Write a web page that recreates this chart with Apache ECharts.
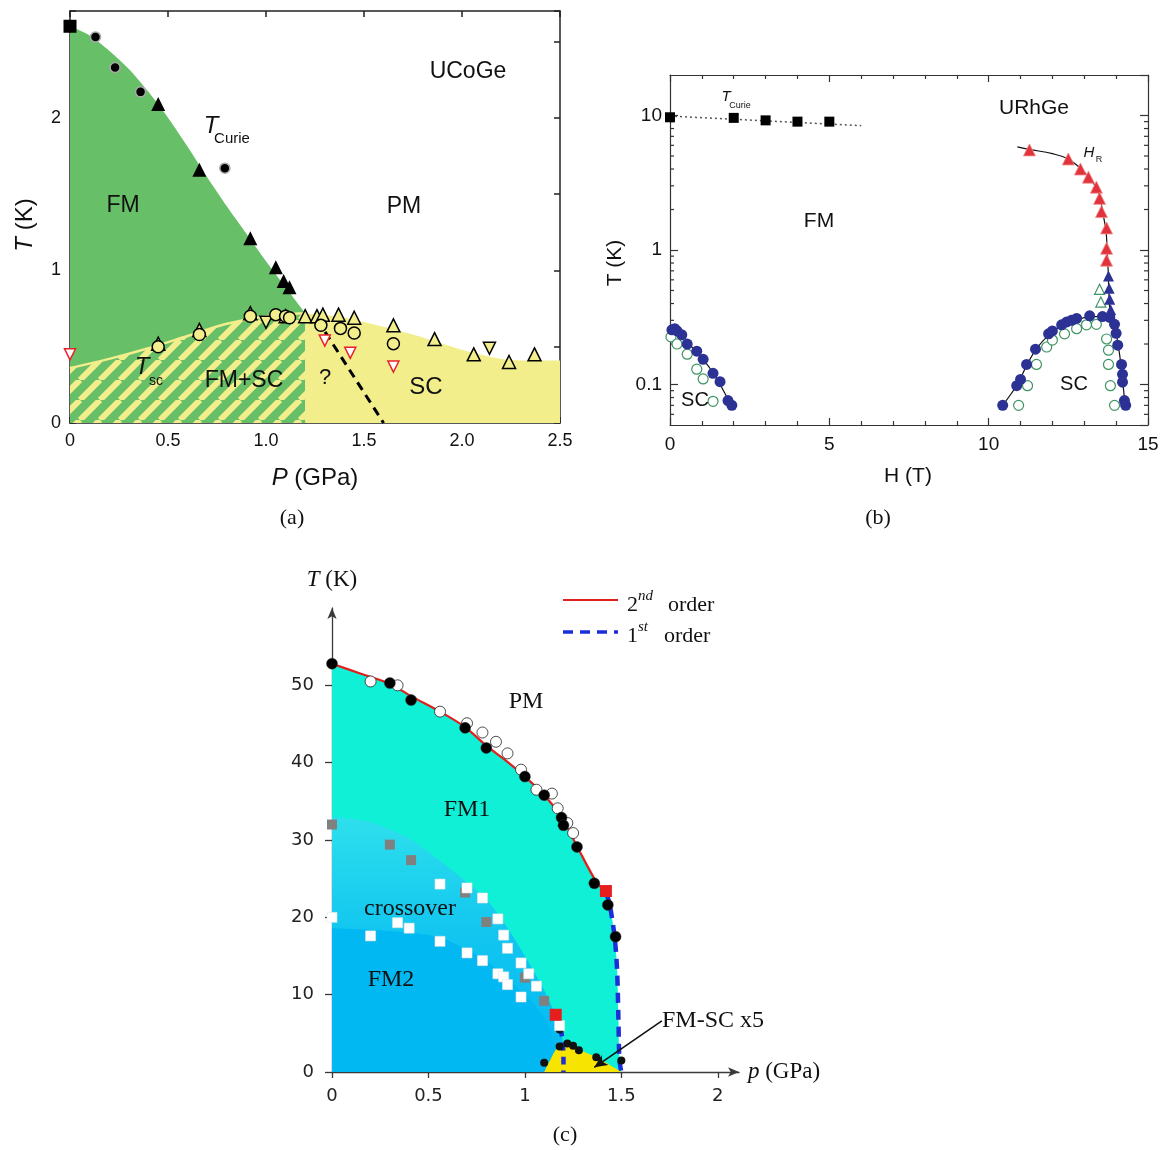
<!DOCTYPE html>
<html><head><meta charset="utf-8">
<script src="https://cdn.jsdelivr.net/npm/echarts@6.0.0/dist/echarts.min.js"></script>
<style>html,body{margin:0;padding:0;background:#fff;}#chart{width:1165px;height:1150px;}</style>
</head><body><div id="chart"></div>
<script>
// ================= Panel (a) UCoGe : T (K) vs P (GPa) =================
const aFmBoundary   = [[0,2.60],[0.1,2.54],[0.2,2.44],[0.3,2.32],[0.4,2.17],[0.5,2.0],[0.6,1.81],[0.7,1.61],[0.8,1.42],[0.9,1.24],[1.0,1.06],[1.1,0.89],[1.2,0.72]];
const aScBoundaryFM = [[0,0.36],[0.2,0.42],[0.4,0.49],[0.6,0.57],[0.8,0.65],[1.0,0.70],[1.2,0.72]];
const aScBoundaryPM = [[1.2,0.72],[1.4,0.69],[1.6,0.63],[1.8,0.56],[2.0,0.48],[2.2,0.42],[2.35,0.41],[2.5,0.41]];
const aDashed       = [[1.26,0.68],[1.6,0]];
const aSquare       = [[0,2.60]];
const aCircleFilled = [[0.13,2.53],[0.23,2.33],[0.36,2.17],[0.79,1.67]];
const aTriFilled    = [[0.45,2.09],[0.66,1.66],[0.92,1.21],[1.05,1.02],[1.09,0.93],[1.12,0.89]];
const aTriOpen      = [[0.45,0.52],[0.66,0.61],[0.92,0.72],[1.10,0.70],[1.20,0.70],[1.26,0.70],[1.29,0.71],[1.37,0.71],[1.45,0.69],[1.65,0.64],[1.86,0.55],[2.06,0.45],[2.24,0.40],[2.37,0.45]];
const aTriDownOpen  = [[1.0,0.66],[2.14,0.49]];
const aCircleOpen   = [[0.45,0.50],[0.66,0.58],[0.92,0.70],[1.05,0.71],[1.10,0.70],[1.12,0.69],[1.28,0.64],[1.38,0.62],[1.45,0.59],[1.65,0.52]];
const aTriDownRed   = [[0,0.45],[1.30,0.54],[1.43,0.46],[1.65,0.37]];

// ================= Panel (b) URhGe : T (K) vs H (T), log T =================
const bCurieSquares = [[0,9.7],[2,9.6],[3,9.2],[4,9.0],[5,9.0]];
const bCurieFit     = [[0,9.9],[6,8.4]];
const bHrLine       = [[10.9,5.85],[11.28,5.6],[12.0,5.2],[12.5,4.75],[12.88,4.05],[13.13,3.5],[13.38,2.9],[13.5,2.4],[13.58,1.9],[13.68,1.4],[13.72,1.0],[13.75,0.7],[13.77,0.5],[13.8,0.36],[13.85,0.31]];
const bHrRedTri     = [[11.28,5.55],[12.5,4.75],[12.88,4.0],[13.13,3.48],[13.38,2.93],[13.48,2.42],[13.54,1.93],[13.7,1.46],[13.7,1.03],[13.7,0.84]];
const bBlueTri      = [[13.76,0.64],[13.78,0.52],[13.8,0.43],[13.83,0.36]];
const bGreenTri     = [[13.48,0.51],[13.52,0.41]];
const bScRightBlue  = [[10.44,0.07],[10.88,0.098],[11.0,0.109],[11.19,0.141],[11.47,0.183],[11.88,0.238],[12.0,0.25],[12.29,0.278],[12.45,0.292],[12.6,0.30],[12.76,0.31],[13.17,0.324],[13.57,0.32],[13.8,0.315],[13.95,0.28],[14.0,0.24],[14.05,0.196],[14.17,0.141],[14.2,0.119],[14.2,0.104],[14.26,0.076],[14.3,0.07]];
const bScRightGreen = [[10.94,0.07],[11.22,0.098],[11.5,0.141],[11.82,0.19],[12.0,0.214],[12.38,0.238],[12.76,0.26],[13.07,0.278],[13.38,0.28],[13.7,0.218],[13.76,0.18],[13.76,0.141],[13.82,0.098],[13.95,0.07]];
const bScRightLine  = [[10.44,0.07],[10.9,0.1],[11.2,0.14],[11.5,0.185],[11.9,0.235],[12.3,0.275],[12.8,0.305],[13.2,0.32],[13.6,0.32],[13.85,0.31],[13.97,0.27],[14.03,0.22],[14.12,0.16],[14.2,0.11],[14.28,0.07]];
const bScLeftBlue   = [[0.06,0.255],[0.15,0.26],[0.22,0.25],[0.37,0.234],[0.54,0.2],[0.84,0.177],[1.04,0.154],[1.35,0.121],[1.57,0.105],[1.82,0.076],[1.94,0.07]];
const bScLeftGreen  = [[0.03,0.226],[0.22,0.2],[0.54,0.168],[0.84,0.13],[1.04,0.11],[1.35,0.075]];
const bScLeftLine   = [[0,0.26],[0.3,0.245],[0.6,0.2],[1.0,0.158],[1.4,0.118],[1.7,0.088],[1.95,0.068]];
const bMinorTickVals = [0.06,0.07,0.08,0.09,0.2,0.3,0.4,0.5,0.6,0.7,0.8,0.9,2,3,4,5,6,7,8,9];

// ================= Panel (c) : T (K) vs p (GPa) =================
const cRedLine      = [[0,52.8],[0.15,51.5],[0.30,50.2],[0.41,48.6],[0.56,46.6],[0.69,44.6],[0.80,42.2],[0.90,40.3],[1.0,38.2],[1.10,35.8],[1.19,33.0],[1.27,29.2],[1.37,24.6],[1.42,23.3]];
const cBlueOuter    = [[1.42,23.3],[1.44,21.6],[1.465,17.5],[1.478,13.2],[1.485,6.7],[1.49,1.6],[1.5,0]];
const cBlueInner    = [[1.16,7.3],[1.19,5.0],[1.2,1.6],[1.2,0]];
const cCrossTop     = [[0,33],[0.2,32.3],[0.4,30.2],[0.55,27.5],[0.7,24.5],[0.8,22.3],[0.9,19],[1.0,15],[1.08,11.5],[1.13,9],[1.16,7.3],[1.19,5.0],[1.2,1.6],[1.2,0]];
const cFM2Top       = [[0,18.6],[0.2,18.4],[0.4,18.0],[0.56,17.4],[0.7,15.8],[0.8,14.4],[0.9,12.3],[1.0,10.0],[1.08,7.8],[1.13,5.5],[1.15,3],[1.16,0]];
const cScDome       = [[1.1,0],[1.13,1.5],[1.17,3.2],[1.21,3.7],[1.27,3.0],[1.37,1.9],[1.44,0.9],[1.5,0]];
const cBlackCircles = [[0,52.8],[0.30,50.3],[0.41,48.1],[0.69,44.5],[0.80,41.9],[1.0,38.2],[1.10,35.8],[1.19,32.9],[1.2,31.9],[1.27,29.1],[1.36,24.4],[1.43,21.6],[1.47,17.5]];
const cOpenCircles  = [[0.20,50.5],[0.34,50.0],[0.56,46.6],[0.70,45.1],[0.78,43.9],[0.85,42.7],[0.91,41.2],[0.98,39.1],[1.06,36.5],[1.14,36.0],[1.17,34.1],[1.22,32.2],[1.25,30.9]];
const cScDots       = [[1.10,1.2],[1.18,3.3],[1.22,3.7],[1.25,3.4],[1.28,2.8],[1.37,1.9],[1.5,1.5],[1.18,5.5]];
const cGreySquares  = [[0,32.0],[0.30,29.4],[0.41,27.4],[0.69,23.2],[0.80,19.4],[1.0,12.2],[1.10,9.2]];
const cWhiteSquares = [[0,20.0],[0.20,17.6],[0.34,19.3],[0.40,18.6],[0.56,24.3],[0.56,16.9],[0.70,23.8],[0.70,15.4],[0.78,22.5],[0.78,14.4],[0.86,19.8],[0.86,12.7],[0.89,17.7],[0.89,12.3],[0.91,16.0],[0.91,11.3],[0.98,14.1],[0.98,9.7],[1.02,12.7],[1.06,11.1],[1.18,6.0]];
const cRedSquares   = [[1.42,23.4],[1.16,7.4]];
const cArrow        = [[1.71,6.6],[1.36,0.6]];
const cTicks        = [0,0.5,1,1.5,2];
const cYTicks       = [0,10,20,30,40,50];

// ---------- styles ----------
const SANS = 'Liberation Sans, Arial, Helvetica, sans-serif';
const SERIF = 'Liberation Serif, Times New Roman, serif';
const DSANS = 'DejaVu Sans, sans-serif';
const GREEN = '#67bf67', PALEY = '#f2ee8c';
const FM1 = '#10f0d6', FM2 = '#02b8f2', SCY = '#f7e400';
const NAVY = '#2c3194', GREEN_O = '#3d9463', REDT = '#e2323c';
const BLUE_D = '#1c2ed8';

function makeHatch(){
  const s = 20, c = document.createElement('canvas');
  c.width = s; c.height = s;
  const g = c.getContext('2d');
  g.fillStyle = GREEN; g.fillRect(0,0,s,s);
  g.strokeStyle = PALEY; g.lineWidth = 6;
  g.beginPath();
  for (let k=-1;k<=1;k++){ g.moveTo(k*s, s); g.lineTo(k*s+s, 0); }
  g.stroke();
  return c;
}
const hatch = makeHatch();

function txt(x,y,text,size,family,extra,rot){
  return {type:'text', x, y, rotation: rot||0, z:100, silent:true,
    style: Object.assign({text, fontSize:size, fontFamily:family, fill:'#111',
      align:'center', verticalAlign:'middle', textAlign:'center', textVerticalAlign:'middle'}, extra||{})};
}
function ital(size,family){ return {rich:{i:{fontStyle:'italic', fontSize:size, fontFamily:family, fill:'#111'}}}; }

const axA = {color:'#222', width:1.5};
const axB = {color:'#333', width:1.2};
const axC = {color:'#3a3a3a', width:1.3};
const isInt = v => Math.abs(v - Math.round(v)) < 1e-9;
const isPow10 = v => Math.abs(Math.log10(v) - Math.round(Math.log10(v))) < 1e-6;

function scatter(xi, data, symbol, size, item, extra){
  return Object.assign({type:'scatter', xAxisIndex:xi, yAxisIndex:xi, data, symbol, symbolSize:size,
    itemStyle:Object.assign({opacity:1}, item), z:5, silent:true}, extra||{});
}
function line(xi, data, ls, extra){
  return Object.assign({type:'line', xAxisIndex:xi, yAxisIndex:xi, data, showSymbol:false, symbol:'none',
    lineStyle:ls, z:3, silent:true}, extra||{});
}

const option = {
  animation:false,
  backgroundColor:'#fff',
  grid:[
    {left:70, top:11, width:490, height:412},
    {left:670, top:75, width:478, height:350},
    {left:332, top:608, width:407, height:464}
  ],
  xAxis:[
    {gridIndex:0, type:'value', min:0, max:2.5, interval:0.5, position:'bottom',
      axisLine:{onZero:false, lineStyle:axA}, axisTick:{inside:true, length:6, lineStyle:axA},
      axisLabel:{color:'#111', fontSize:18, fontFamily:SANS, margin:9, formatter:v=> v===0?'0':v.toFixed(1)},
      splitLine:{show:false}},
    {gridIndex:0, type:'value', min:0, max:2.5, interval:0.5, position:'top',
      axisLine:{onZero:false, lineStyle:axA}, axisTick:{inside:true, length:6, lineStyle:axA},
      axisLabel:{show:false}, splitLine:{show:false}},
    {gridIndex:1, type:'value', min:0, max:15, interval:5, position:'bottom',
      axisLine:{onZero:false, lineStyle:axB}, axisTick:{inside:true, length:7, lineStyle:axB},
      minorTick:{show:true, splitNumber:5, length:4, lineStyle:axB},
      axisLabel:{color:'#111', fontSize:19, fontFamily:SANS, margin:10}, splitLine:{show:false}},
    {gridIndex:1, type:'value', min:0, max:15, interval:5, position:'top',
      axisLine:{onZero:false, lineStyle:axB}, axisTick:{inside:true, length:7, lineStyle:axB},
      minorTick:{show:true, splitNumber:5, length:4, lineStyle:axB},
      axisLabel:{show:false}, splitLine:{show:false}},
    {gridIndex:2, type:'value', min:0, max:2.11, interval:0.5, position:'bottom',
      axisLine:{onZero:false, lineStyle:axC, symbol:['none','arrow'], symbolSize:[7,11]},
      axisTick:{length:6, lineStyle:axC, customValues:cTicks},
      axisLabel:{color:'#222', fontSize:18, fontFamily:DSANS, margin:15, customValues:cTicks,
        formatter:v=> (Math.abs(v*2-Math.round(v*2))<1e-9 && v<=2) ? String(v) : ''},
      splitLine:{show:false}}
  ],
  yAxis:[
    {gridIndex:0, type:'value', min:0, max:2.7, interval:0.5, position:'left',
      axisLine:{onZero:false, lineStyle:axA}, axisTick:{inside:true, length:6, lineStyle:axA},
      axisLabel:{color:'#111', fontSize:18, fontFamily:SANS, margin:9, formatter:v=> isInt(v)?String(Math.round(v)):''},
      splitLine:{show:false}},
    {gridIndex:0, type:'value', min:0, max:2.7, interval:0.5, position:'right',
      axisLine:{onZero:false, lineStyle:axA}, axisTick:{inside:true, length:6, lineStyle:axA},
      axisLabel:{show:false}, splitLine:{show:false}},
    {gridIndex:1, type:'log', logBase:10, min:0.05, max:20, position:'left',
      axisLine:{onZero:false, lineStyle:axB}, axisTick:{inside:true, length:8, lineStyle:axB},
      axisLabel:{color:'#111', fontSize:19, fontFamily:SANS, margin:8, showMinLabel:false, showMaxLabel:false,
        formatter:v=> isPow10(v) ? (v<1 ? '0.1' : String(Math.round(v))) : ''},
      splitLine:{show:false}},
    {gridIndex:1, type:'log', logBase:10, min:0.05, max:20, position:'right',
      axisLine:{onZero:false, lineStyle:axB}, axisTick:{inside:true, length:8, lineStyle:axB},
      axisLabel:{show:false}, splitLine:{show:false}},
    {gridIndex:2, type:'value', min:0, max:60, interval:10, position:'left',
      axisLine:{onZero:false, lineStyle:axC, symbol:['none','arrow'], symbolSize:[7,11]},
      axisTick:{length:7, lineStyle:axC, customValues:cYTicks},
      axisLabel:{color:'#222', fontSize:18, fontFamily:DSANS, margin:18, customValues:cYTicks,
        formatter:v=> v<=50 ? String(v) : ''},
      splitLine:{show:false}}
  ],
  series:[
    // ---- (a) regions ----
    line(0, aFmBoundary, {width:0, opacity:0}, {smooth:0.3, areaStyle:{color:GREEN, opacity:1}, z:1}),
    line(0, aScBoundaryFM, {width:2.5, color:PALEY}, {smooth:0.3, areaStyle:{color:{image:hatch, repeat:'repeat'}, opacity:1}, z:2}),
    line(0, aScBoundaryPM, {width:0, opacity:0}, {smooth:0.3, areaStyle:{color:PALEY, opacity:1}, z:2}),
    line(0, aDashed, {width:3, color:'#000', type:[9,6]}, {z:3}),
    scatter(0, aTriOpen, 'triangle', 13, {color:PALEY, borderColor:'#000', borderWidth:1.5}),
    scatter(0, aTriDownOpen, 'triangle', 12, {color:PALEY, borderColor:'#000', borderWidth:1.5}, {symbolRotate:180}),
    scatter(0, aCircleOpen, 'circle', 12, {color:PALEY, borderColor:'#000', borderWidth:1.5}),
    scatter(0, aTriDownRed, 'triangle', 11, {color:'#fff', borderColor:'#e8202a', borderWidth:1.5}, {symbolRotate:180}),
    scatter(0, aCircleFilled, 'circle', 10, {color:'#000', borderColor:'#aaa', borderWidth:1.5}),
    scatter(0, aTriFilled, 'triangle', 14, {color:'#000'}),
    scatter(0, aSquare, 'rect', 13, {color:'#000'}),
    // ---- (b) ----
    {type:'custom', xAxisIndex:2, yAxisIndex:2, silent:true, z:4, clip:false,
      data: bMinorTickVals.map(v=>[0,v]),
      renderItem:(params, api)=>{
        const v = api.value(1);
        const pl = api.coord([0, v]), pr = api.coord([15, v]);
        return {type:'group', children:[
          {type:'line', shape:{x1:pl[0], y1:pl[1], x2:pl[0]+4, y2:pl[1]}, style:{stroke:'#333', lineWidth:1.2}},
          {type:'line', shape:{x1:pr[0], y1:pr[1], x2:pr[0]-4, y2:pr[1]}, style:{stroke:'#333', lineWidth:1.2}}
        ]};
      }},
    line(2, bCurieFit, {width:1.5, color:'#555', type:[2,3]}),
    scatter(2, bCurieSquares, 'rect', 10, {color:'#000'}),
    line(2, bHrLine, {width:1.2, color:'#111'}, {smooth:0.4}),
    line(2, bScRightLine, {width:1.2, color:'#111'}, {smooth:0.3}),
    line(2, bScLeftLine, {width:1.2, color:'#111'}, {smooth:0.3}),
    scatter(2, bScRightGreen, 'circle', 10, {color:'#fff', borderColor:GREEN_O, borderWidth:1.2}),
    scatter(2, bScLeftGreen, 'circle', 10, {color:'#fff', borderColor:GREEN_O, borderWidth:1.2}),
    scatter(2, bGreenTri, 'triangle', 10, {color:'#fff', borderColor:GREEN_O, borderWidth:1.2}),
    scatter(2, bScRightBlue, 'circle', 11, {color:NAVY}),
    scatter(2, bScLeftBlue, 'circle', 11, {color:NAVY}),
    scatter(2, bBlueTri, 'triangle', 11, {color:NAVY}),
    scatter(2, bHrRedTri, 'triangle', 12, {color:REDT, borderColor:'#f08a8a', borderWidth:0.8}),
    // ---- (c) regions ----
    line(4, cRedLine.concat(cBlueOuter.slice(1)), {width:0, opacity:0}, {smooth:0.3, areaStyle:{color:FM1, opacity:1}, z:1}),
    line(4, cCrossTop, {width:0, opacity:0}, {smooth:0.3, z:1,
      areaStyle:{opacity:1, color:{type:'linear', x:0, y:0, x2:0, y2:1, colorStops:[
        {offset:0, color:'#2ee0ec'}, {offset:0.45, color:'#12c6f0'}, {offset:1, color:FM2}]}}}),
    line(4, cFM2Top, {width:0, opacity:0}, {smooth:0.3, areaStyle:{color:FM2, opacity:1}, z:1}),
    line(4, cScDome, {width:0, opacity:0}, {smooth:0.3, areaStyle:{color:SCY, opacity:1}, z:2,
      markLine:{silent:true, symbol:['none','arrow'], symbolSize:[9,13], label:{show:false},
        lineStyle:{color:'#111', width:1.6, type:'solid'},
        data:[[{coord:cArrow[0]},{coord:cArrow[1]}]]}}),
    line(4, cRedLine, {width:2.2, color:'#e0201e'}, {smooth:0.3, z:3}),
    line(4, cBlueOuter, {width:4.5, color:BLUE_D, type:[10,7]}, {smooth:0.3, z:3}),
    line(4, cBlueInner, {width:4.5, color:BLUE_D, type:[8,6]}, {smooth:0.3, z:3}),
    scatter(4, cOpenCircles, 'circle', 11, {color:'#fff', borderColor:'#222', borderWidth:0.8}),
    scatter(4, cBlackCircles, 'circle', 11, {color:'#000', borderColor:'#333', borderWidth:0.5}),
    scatter(4, cScDots, 'circle', 8, {color:'#111'}),
    scatter(4, cGreySquares, 'rect', 10, {color:'#808080'}),
    scatter(4, cWhiteSquares, 'rect', 10, {color:'#fff', borderColor:'#e6e6e6', borderWidth:0.6}),
    scatter(4, cRedSquares, 'rect', 12, {color:'#e61e1e'})
  ],
  graphic:[
    // (a)
    txt(468,72,'UCoGe',23,SANS),
    txt(211,126,'T',24,SANS,{fontStyle:'italic'}),
    txt(232,139,'Curie',15,SANS),
    txt(123,206,'FM',23,SANS),
    txt(404,207,'PM',23,SANS),
    txt(142,367,'T',24,SANS,{fontStyle:'italic'}),
    txt(156,381,'sc',14,SANS),
    txt(244,381,'FM+SC',23,SANS),
    txt(325,378,'?',22,SANS),
    txt(426,387,'SC',24,SANS),
    txt(25,225,'{i|T} (K)',24,SANS,ital(24,SANS),Math.PI/2),
    txt(315,478,'{i|P} (GPa)',24,SANS,ital(24,SANS)),
    txt(292,518,'(a)',22,SERIF),
    // (b)
    txt(726,97,'T',15,SANS,{fontStyle:'italic'}),
    txt(740,106,'Curie',9,SANS),
    txt(1034,108,'URhGe',21,SANS),
    txt(819,221,'FM',21,SANS),
    txt(1089,153,'H',15,SANS,{fontStyle:'italic'}),
    txt(1099,160,'R',9,SANS),
    txt(695,400,'SC',20,SANS),
    txt(1074,384,'SC',20,SANS),
    txt(615,263,'T (K)',21,SANS,null,Math.PI/2),
    txt(908,476,'H (T)',21,SANS),
    txt(878,518,'(b)',22,SERIF),
    // (c)
    txt(332,580,'{i|T} (K)',23,SERIF,ital(23,SERIF)),
    txt(784,1072,'{i|p} (GPa)',23,SERIF,ital(23,SERIF)),
    txt(526,702,'PM',24,SERIF),
    txt(467,810,'FM1',24,SERIF),
    txt(410,909,'crossover',24,SERIF),
    txt(391,980,'FM2',24,SERIF),
    txt(662,1021,'FM-SC x5',24,SERIF,{align:'left',textAlign:'left'}),
    txt(565,1135,'(c)',22,SERIF),
    {type:'line', z:100, silent:true, shape:{x1:563,y1:600,x2:618,y2:600}, style:{stroke:'#e0201e', lineWidth:2.2}},
    {type:'line', z:100, silent:true, shape:{x1:563,y1:632,x2:618,y2:632}, style:{stroke:BLUE_D, lineWidth:3.6, lineDash:[10,7]}},
    txt(627,605,'2',22,SERIF,{align:'left',textAlign:'left'}),
    txt(638,596,'nd',15,SERIF,{align:'left',textAlign:'left',fontStyle:'italic'}),
    txt(668,605,'order',22,SERIF,{align:'left',textAlign:'left'}),
    txt(627,636,'1',22,SERIF,{align:'left',textAlign:'left'}),
    txt(638,627,'st',15,SERIF,{align:'left',textAlign:'left',fontStyle:'italic'}),
    txt(664,636,'order',22,SERIF,{align:'left',textAlign:'left'})
  ]
};

const chart = echarts.init(document.getElementById('chart'), null, {renderer:'canvas', width:1165, height:1150});
chart.setOption(option);
</script></body></html>
